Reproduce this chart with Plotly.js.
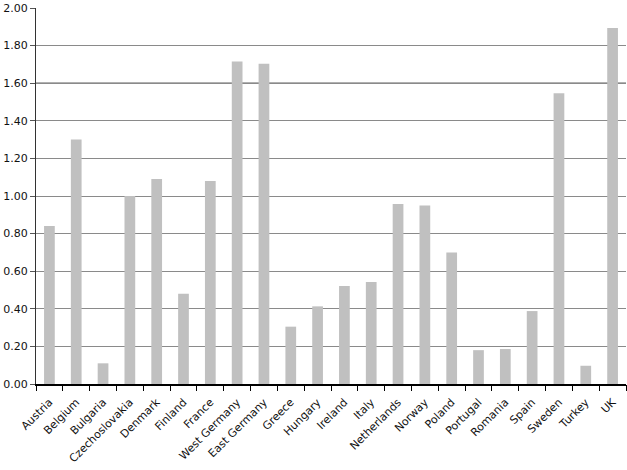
<!DOCTYPE html>
<html>
<head>
<meta charset="utf-8">
<script src="https://cdn.plot.ly/plotly-3.0.1.min.js"></script>
<style>html,body{margin:0;padding:0;background:#fff;}#chart{width:627px;height:470px;}</style>
</head>
<body>
<div id="chart"></div>
<script>
const countries = ["Austria","Belgium","Bulgaria","Czechoslovakia","Denmark","Finland","France","West Germany","East Germany","Greece","Hungary","Ireland","Italy","Netherlands","Norway","Poland","Portugal","Romania","Spain","Sweden","Turkey","UK"];
const values = [0.84,1.30,0.11,1.00,1.09,0.48,1.08,1.716,1.704,0.305,0.413,0.521,0.543,0.957,0.95,0.70,0.18,0.186,0.388,1.546,0.097,1.894];
const yTicks = [0,0.2,0.4,0.6,0.8,1.0,1.2,1.4,1.6,1.8,2.0];
const darkLine = 1.6;

// category boundaries for tick marks between bars
const boundaries = countries.map((_, i) => i - 0.5).concat([countries.length - 0.5]);

const trace = {
  type: "bar",
  x: countries,
  y: values,
  marker: {color: "#c0c0c0", line: {width: 0}},
  width: 0.4,
  hoverinfo: "x+y"
};
const tickHelper = {
  type: "scatter", mode: "markers", x: [boundaries[0], boundaries[boundaries.length - 1]], y: [0, 0],
  xaxis: "x2", yaxis: "y", marker: {opacity: 0}, hoverinfo: "skip", showlegend: false
};

const layout = {
  width: 627, height: 470,
  margin: {l: 36, r: 1, t: 8, b: 86, pad: 0},
  paper_bgcolor: "#fff", plot_bgcolor: "#fff",
  font: {family: "DejaVu Sans, Arial, sans-serif", size: 11, color: "#111"},
  showlegend: false,
  xaxis: {
    type: "category",
    tickangle: -45,
    automargin: false,
    ticks: "outside", ticklen: 6, tickcolor: "rgba(0,0,0,0)", tickwidth: 1,
    showline: true, linecolor: "#000", linewidth: 1.5,
    showgrid: false, zeroline: false,
    tickfont: {size: 11, color: "#111"}
  },
  xaxis2: {
    overlaying: "x", anchor: "y", side: "bottom",
    range: [-0.5, countries.length - 0.5],
    tickvals: boundaries,
    showticklabels: false,
    ticks: "outside", ticklen: 6, tickcolor: "#000", tickwidth: 1,
    showline: false, showgrid: false, zeroline: false, automargin: false
  },
  yaxis: {
    range: [0, 2.0],
    tickvals: yTicks,
    tickformat: ".2f",
    ticks: "outside", ticklen: 5, tickcolor: "#555", tickwidth: 1,
    showline: true, linecolor: "#333", linewidth: 1,
    showgrid: true, gridcolor: "#8a8a8a", gridwidth: 1,
    zeroline: false,
    automargin: false,
    tickfont: {size: 11, color: "#111"}
  },
  shapes: [{
    type: "line", xref: "paper", x0: 0, x1: 1, yref: "y", y0: darkLine, y1: darkLine,
    line: {color: "#000", width: 1}, layer: "below"
  }]
};

Plotly.newPlot("chart", [trace, tickHelper], layout, {displayModeBar: false, staticPlot: true});
</script>
</body>
</html>
